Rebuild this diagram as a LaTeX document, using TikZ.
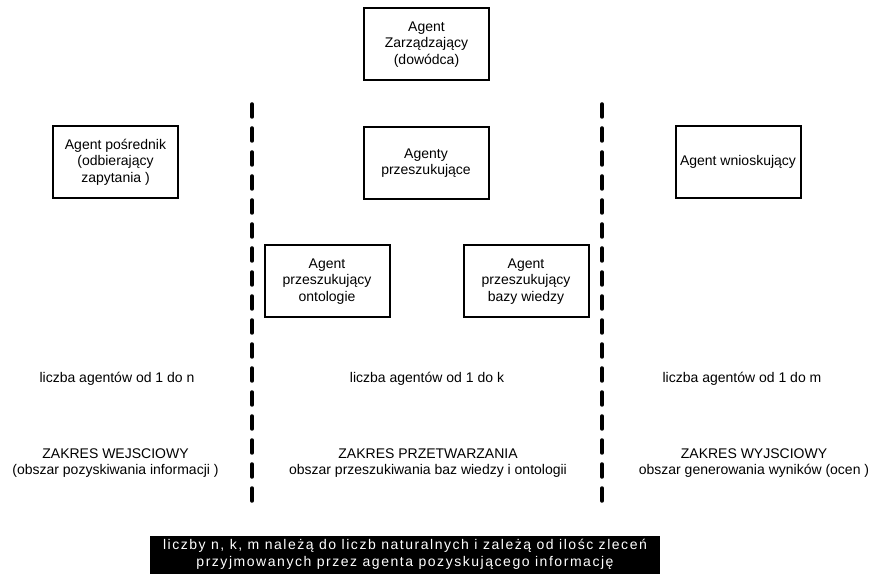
\documentclass[tikz,border=0pt]{standalone}
\usepackage{fontspec}
\setmainfont{Liberation Sans}
\newfontfamily\widesans[LetterSpace=11]{Liberation Sans}
\begin{document}
\begin{tikzpicture}[x=1pt,y=-1pt,
  agentbox/.style={draw=black, line width=2pt, minimum width=125pt, minimum height=72pt,
    align=center, inner sep=2pt, font=\fontsize{14}{16.5}\selectfont},
  plain/.style={align=center, inner sep=0pt, font=\fontsize{14}{16.5}\selectfont},
  divider/.style={line width=3.5pt, line cap=round, dash pattern=on 13pt off 11pt},
  note/.style={fill=black, text=white, align=center, inner sep=0pt,
    minimum width=510pt, minimum height=38pt, font=\widesans\fontsize{14}{16.5}\selectfont}]
\useasboundingbox (0,0) rectangle (879,577);

% agents
\node[agentbox] (boss) at (426.5,44.5) {Agent\\Zarządzający\\(dowódca)};
\node[agentbox] (broker) at (115.5,162) {Agent pośrednik\\(odbierający\\zapytania )};
\node[agentbox] (search) at (426,163) {Agenty\\przeszukujące};
\node[agentbox] (infer) at (738,162) {Agent wnioskujący};
\node[agentbox] (onto) at (327,281.5) {Agent\\przeszukujący\\ontologie};
\node[agentbox] (kb) at (526,281.5) {Agent\\przeszukujący\\bazy wiedzy};

% zone boundaries
\coordinate (d1top) at (252,104);
\coordinate (d1bot) at (252,503);
\coordinate (d2top) at (602,104);
\coordinate (d2bot) at (602,503);
\draw[divider] (d1top) -- (d1bot);
\draw[divider] (d2top) -- (d2bot);

% agent counts
\node[plain] (cn) at (117,379) {liczba agentów od 1 do n};
\node[plain] (ck) at (427,379) {liczba agentów od 1 do k};
\node[plain] (cm) at (742,379) {liczba agentów od 1 do m};

% zone names
\node[plain] (zin) at (115.5,463) {ZAKRES WEJSCIOWY\\(obszar pozyskiwania informacji )};
\node[plain] (zproc) at (428,463) {ZAKRES PRZETWARZANIA\\obszar przeszukiwania baz wiedzy i ontologii};
\node[plain] (zout) at (754,463) {ZAKRES WYJSCIOWY\\obszar generowania wyników (ocen )};

% footnote
\node[note] (fn) at (405,554.5) {liczby n, k, m należą do liczb naturalnych i zależą od ilośc zleceń\\przyjmowanych przez agenta pozyskującego informację};
\end{tikzpicture}
\end{document}
